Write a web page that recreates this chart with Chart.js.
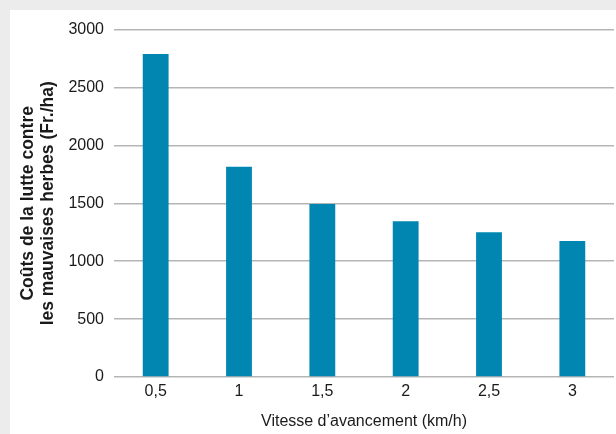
<!DOCTYPE html>
<html lang="fr">
<head>
<meta charset="utf-8">
<title>Coûts de la lutte contre les mauvaises herbes</title>
<script src="https://cdn.jsdelivr.net/npm/chart.js@4/dist/chart.umd.min.js"></script>
<style>
  html, body { margin: 0; padding: 0; }
  body { width: 616px; height: 434px; background: #ebeceb; position: relative; overflow: hidden; }
  #panel { position: absolute; left: 10px; top: 10px; width: 606px; height: 424px; background: #ffffff; }
  canvas { display: block; }
</style>
</head>
<body>
<div id="panel"><canvas id="chart" width="606" height="424"></canvas></div>
<script>
// Vitesse d'avancement (km/h) et coûts correspondants (Fr./ha)
const vitesses = ['0,5', '1', '1,5', '2', '2,5', '3'];
const couts = [2790, 1815, 1495, 1345, 1250, 1175];
const yTicks = [0, 500, 1000, 1500, 2000, 2500, 3000];

const titreY = ['Coûts de la lutte contre', 'les mauvaises herbes (Fr./ha)'];
const titreX = 'Vitesse d\u2019avancement (km/h)';

const police = '"Liberation Sans", Arial, sans-serif';
const texte = '#1a1a1a';

new Chart(document.getElementById('chart'), {
  type: 'bar',
  data: {
    labels: vitesses,
    datasets: [{
      data: couts,
      backgroundColor: '#0086b0',
      borderWidth: 0,
      barPercentage: 0.31,
      categoryPercentage: 1
    }]
  },
  options: {
    responsive: false,
    animation: false,
    layout: { padding: { top: 18, right: 2, left: 0, bottom: 0 } },
    plugins: {
      legend: { display: false },
      tooltip: { enabled: false }
    },
    scales: {
      x: {
        grid: { display: false, drawTicks: false },
        border: { display: false },
        ticks: {
          color: texte,
          padding: 5,
          font: { family: police, size: 16 }
        },
        title: {
          display: true,
          text: titreX,
          color: texte,
          padding: { top: 0, bottom: 3 },
          font: { family: police, size: 16, lineHeight: 1.2 }
        },
        afterFit: (s) => { s.height = 57; }
      },
      y: {
        min: 0,
        max: 3000,
        afterBuildTicks: (s) => { s.ticks = yTicks.map(v => ({ value: v })); },
        grid: { color: '#b5b5b5', lineWidth: 1.5, drawTicks: false },
        border: { display: false },
        ticks: {
          color: texte,
          padding: 10,
          font: { family: police, size: 16 },
          callback: (v) => String(v)
        },
        title: {
          display: true,
          text: titreY,
          color: texte,
          padding: { top: 9, bottom: 0 },
          font: { family: police, size: 17.5, weight: 'bold', lineHeight: 1.1 }
        },
        afterFit: (s) => { s.width = 104; }
      }
    }
  }
});
</script>
</body>
</html>
